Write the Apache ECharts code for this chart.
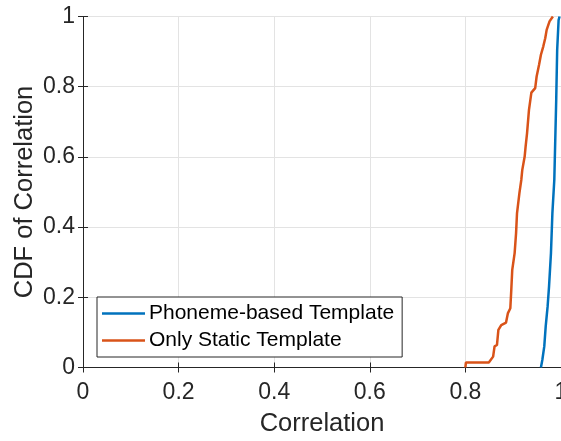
<!DOCTYPE html>
<html>
<head>
<meta charset="utf-8">
<script src="https://cdn.jsdelivr.net/npm/echarts@6/dist/echarts.min.js"></script>
<style>
html,body{margin:0;padding:0;background:#fff;}
#chart{width:561px;height:441px;}
</style>
</head>
<body>
<div id="chart"></div>
<script>
// Data
const seriesNames = ['Phoneme-based Template', 'Only Static Template'];
const xTicks = [0, 0.2, 0.4, 0.6, 0.8, 1];
const yTicks = [0, 0.2, 0.4, 0.6, 0.8, 1];

const phonemeX = [0.958, 0.961, 0.965, 0.968, 0.972, 0.975, 0.979, 0.982, 0.986, 0.987, 0.990, 0.992, 0.995, 0.997];
const phonemeY = [0.000, 0.022, 0.060, 0.117, 0.174, 0.231, 0.326, 0.440, 0.535, 0.592, 0.763, 0.905, 0.990, 1.000];

const staticX = [0.800, 0.801, 0.849, 0.858, 0.861, 0.866, 0.869, 0.875, 0.885, 0.889, 0.894, 0.896, 0.898, 0.903, 0.906, 0.908, 0.913, 0.917, 0.919, 0.924, 0.926, 0.929, 0.933, 0.938, 0.946, 0.949, 0.954, 0.958, 0.963, 0.967, 0.970, 0.976, 0.983];
const staticY = [0.000, 0.014, 0.014, 0.031, 0.060, 0.064, 0.107, 0.121, 0.128, 0.155, 0.169, 0.221, 0.278, 0.326, 0.383, 0.440, 0.497, 0.535, 0.563, 0.601, 0.630, 0.668, 0.734, 0.783, 0.796, 0.829, 0.862, 0.891, 0.915, 0.938, 0.962, 0.986, 1.000];

const zip = (xs, ys) => xs.map((x, i) => [x, ys[i]]);

const FONT = 'Liberation Sans, Arial, Helvetica, sans-serif';
const TXT = '#262626';
const AX = '#262626';
const GRID = '#e3e3e3';

const chart = echarts.init(document.getElementById('chart'), null, {renderer: 'canvas'});

const baseX = {
  type: 'value', min: 0, max: 1, interval: 0.2,
  axisLine: {show: true, lineStyle: {color: AX, width: 1}},
  axisTick: {show: true, inside: true, length: 5, lineStyle: {color: AX}},
  splitLine: {show: false},
  axisLabel: {show: false}
};
const baseY = {
  type: 'value', min: 0, max: 1, interval: 0.2,
  axisLine: {show: true, lineStyle: {color: AX, width: 1}},
  axisTick: {show: true, inside: true, length: 5, lineStyle: {color: AX}},
  splitLine: {show: false},
  axisLabel: {show: false}
};

chart.setOption({
  animation: false,
  backgroundColor: '#fff',
  textStyle: {fontFamily: FONT},
  grid: {left: 83, top: 16.5, right: 0, bottom: 73.5, containLabel: false, outerBoundsMode: 'none'},
  legend: {
    orient: 'vertical',
    left: 97, top: 297,
    data: seriesNames,
    icon: 'rect',
    itemWidth: 43, itemHeight: 2.5,
    itemGap: 2,
    padding: [4, 8, 4, 5],
    backgroundColor: '#fff',
    borderColor: '#262626', borderWidth: 1,
    textStyle: {fontFamily: FONT, fontSize: 21, color: '#000', lineHeight: 25, padding: [0, 0, 0, -1]}
  },
  xAxis: [
    Object.assign({}, baseX, {
      position: 'bottom',
      splitLine: {show: true, lineStyle: {color: GRID, width: 1}},
      axisLabel: {show: true, fontSize: 23, color: TXT, fontFamily: FONT, margin: 14,
        formatter: v => xTicks.includes(+v.toFixed(1)) ? String(+v.toFixed(1)) : ''},
      name: 'Correlation', nameLocation: 'middle', nameGap: 43, nameMoveOverlap: false,
      nameTextStyle: {fontSize: 25.5, color: TXT, fontFamily: FONT}
    }),
    Object.assign({}, baseX, {position: 'top'})
  ],
  yAxis: [
    Object.assign({}, baseY, {
      position: 'left',
      splitLine: {show: true, lineStyle: {color: GRID, width: 1}},
      axisLabel: {show: true, fontSize: 23, color: TXT, fontFamily: FONT, margin: 8,
        formatter: v => yTicks.includes(+v.toFixed(1)) ? String(+v.toFixed(1)) : ''},
      name: 'CDF of Correlation', nameLocation: 'middle', nameGap: 45, nameMoveOverlap: false,
      nameTextStyle: {fontSize: 25.5, color: TXT, fontFamily: FONT}
    }),
    Object.assign({}, baseY, {position: 'right'})
  ],
  series: [
    {
      name: seriesNames[0], type: 'line', data: zip(phonemeX, phonemeY),
      xAxisIndex: 0, yAxisIndex: 0,
      symbol: 'none', lineStyle: {color: '#0072BD', width: 2.5}, itemStyle: {color: '#0072BD'},
      z: 3
    },
    {
      name: seriesNames[1], type: 'line', data: zip(staticX, staticY),
      xAxisIndex: 0, yAxisIndex: 0,
      symbol: 'none', lineStyle: {color: '#D95319', width: 2.5}, itemStyle: {color: '#D95319'},
      z: 3
    }
  ]
});
</script>
</body>
</html>
